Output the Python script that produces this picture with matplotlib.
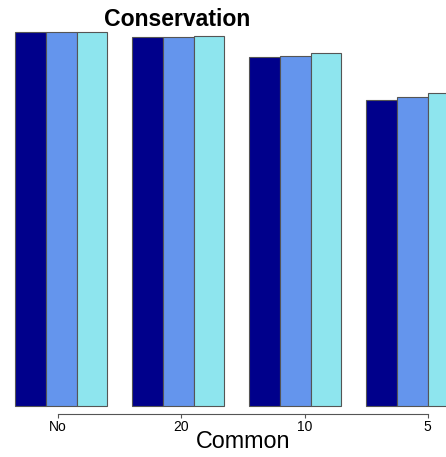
import numpy as np
import matplotlib
matplotlib.use("Agg")
import matplotlib.pyplot as plt

plt.rcParams['font.family'] = ['Liberation Sans', 'DejaVu Sans']

# data (relative conservation)
groups = ['No', '20', '10', '5']
series_a = [1.000, 0.986, 0.933, 0.817]
series_b = [1.000, 0.987, 0.936, 0.826]
series_c = [1.000, 0.989, 0.945, 0.838]
colors = ['#00008B', '#6495ED', '#8EE5EE']

W, H = 446, 457
fig = plt.figure(figsize=(W / 100, H / 100), dpi=100)

px_unit = 30.8
xmin = -15 / px_unit
xmax = xmin + W / px_unit
ax = fig.add_axes([0, (H - 406) / H, 1, (406 - 32) / H])
ax.set_xlim(xmin, xmax)
ax.set_ylim(0, 1.0)

gap = 0.8
starts = np.arange(len(groups)) * (3 + gap)
for k, vals in enumerate([series_a, series_b, series_c]):
    ax.bar(starts + k + 0.5, vals, width=1.0, color=colors[k],
           edgecolor='#555555', linewidth=0.8, clip_on=False)

ticks = np.arange(len(groups)) * 4 + 1.4
ax.set_xticks(ticks)
ax.set_xticklabels(groups, fontsize=10.5)
ax.set_yticks([])
for s in ['top', 'right', 'left']:
    ax.spines[s].set_visible(False)
ax.spines['bottom'].set_position(('outward', 5.5))
ax.spines['bottom'].set_bounds(ticks[0], ticks[-1])
ax.spines['bottom'].set_color('#555555')
ax.spines['bottom'].set_linewidth(0.8)
ax.tick_params(axis='x', length=3, width=0.8, color='#555555', pad=1.5)

fig.text(177.5 / W, 1 - 19 / H, 'Conservation', fontsize=16.6, fontweight='bold',
         ha='center', va='center')
fig.text(243 / W, 1 - 441 / H, 'Common', fontsize=16.8, ha='center', va='center')

fig.savefig('out.png', dpi=100)
